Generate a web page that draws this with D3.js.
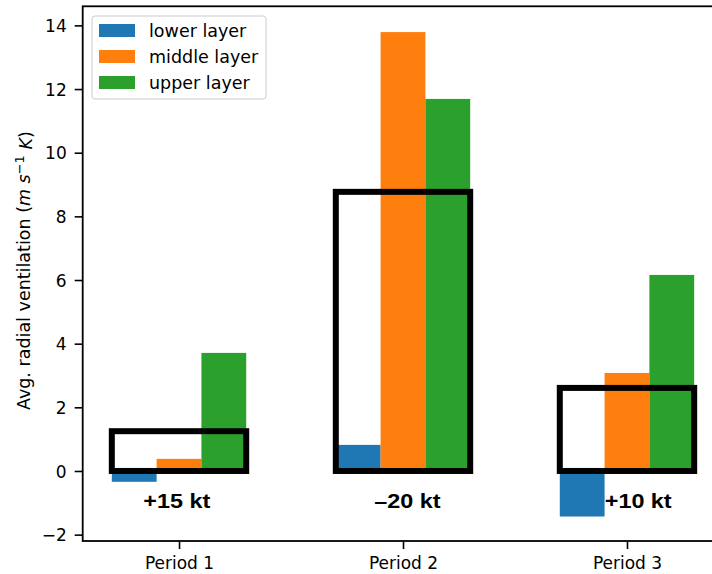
<!DOCTYPE html>
<html>
<head>
<meta charset="utf-8">
<script src="https://cdn.jsdelivr.net/npm/d3@7"></script>
<style>
  body { margin: 0; background: #fff; }
  svg { display: block; font-family: "DejaVu Sans", sans-serif; }
</style>
</head>
<body>
<div id="chart-area"></div>
<script>
// data
const periods = ["Period 1", "Period 2", "Period 3"];
const lowerLayer = [-0.34, 0.82, -1.43];
const middleLayer = [0.38, 13.79, 3.08];
const upperLayer = [3.71, 11.69, 6.16];
const boxTops = [1.25, 8.77, 2.61];
const changeLabels = ["+15 kt", "\u201320 kt", "+10 kt"];
const changeLabelX = [-0.01, 1.02, 2.05];
const yTicks = [-2, 0, 2, 4, 6, 8, 10, 12, 14];
const layerNames = ["lower layer", "middle layer", "upper layer"];
const layerColors = ["#1f77b4", "#ff7f0e", "#2ca02c"];

const W = 712, H = 574;
const barW = 0.2;

const svg = d3.select("#chart-area").append("svg")
  .attr("width", W)
  .attr("height", H)

const x = d3.scaleLinear().domain([-0.43, 2.43]).range([82.7, 723.3])
const y = d3.scaleLinear().domain([-2.2, 14.6]).range([541, 6.3])

const series = [lowerLayer, middleLayer, upperLayer];

// bars
series.forEach((vals, s) => {
  svg.append("g").selectAll("rect")
    .data(vals)
    .enter()
    .append("rect")
    .attr("x", (d, i) => x(i + (s - 1) * barW - barW / 2))
    .attr("width", x(barW) - x(0))
    .attr("y", d => y(Math.max(0, d)))
    .attr("height", d => Math.abs(y(d) - y(0)))
    .attr("fill", layerColors[s])
})

// black boxes
svg.append("g").selectAll("rect")
  .data(boxTops)
  .enter()
  .append("rect")
  .attr("x", (d, i) => x(i - 1.5 * barW))
  .attr("width", x(3 * barW) - x(0))
  .attr("y", d => y(d))
  .attr("height", d => y(0) - y(d))
  .attr("fill", "none")
  .attr("stroke", "#000")
  .attr("stroke-width", 6)

// intensity change labels (wide bold sans)
svg.append("g").selectAll("text")
  .data(changeLabels)
  .enter()
  .append("text")
  .attr("transform", (d, i) => `translate(${x(changeLabelX[i])},${y(-1.17)}) scale(1.2,1)`)
  .attr("text-anchor", "middle")
  .attr("font-family", "'Liberation Sans', Arial, sans-serif")
  .attr("font-weight", "bold")
  .attr("font-size", "19.5px")
  .text(d => d)

// axes
const axisLeft = d3.axisLeft(y).tickValues(yTicks).tickSizeInner(8).tickSizeOuter(0).tickPadding(8)
  .tickFormat(d => d < 0 ? "\u2212" + Math.abs(d) : d)
const axisBottom = d3.axisBottom(x).tickValues([0, 1, 2]).tickSizeInner(8).tickSizeOuter(0).tickPadding(8)
  .tickFormat(i => periods[i])

const gy = svg.append("g")
  .attr("transform", `translate(${x.range()[0]},0)`)
  .call(axisLeft)
const gx = svg.append("g")
  .attr("transform", `translate(0,${y.range()[0]})`)
  .call(axisBottom)

;[gx, gy].forEach(g => {
  g.selectAll("text").attr("font-family", "DejaVu Sans, sans-serif").attr("font-size", "17px").attr("fill", "#000")
  g.selectAll("line").attr("stroke-width", 1.6)
  g.select(".domain").remove()
})
gy.selectAll("text").attr("dy", "0.36em")

// frame
svg.append("rect")
  .attr("x", x.range()[0])
  .attr("y", y.range()[1])
  .attr("width", x.range()[1] - x.range()[0])
  .attr("height", y.range()[0] - y.range()[1])
  .attr("fill", "none")
  .attr("stroke", "#000")
  .attr("stroke-width", 1.8)

// y label
const ylab = svg.append("text")
  .attr("transform", `translate(30,${(y.range()[0] + y.range()[1]) / 2 - 3}) rotate(-90)`)
  .attr("text-anchor", "middle")
  .attr("font-size", "17.5px")
ylab.append("tspan").text("Avg. radial ventilation (")
ylab.append("tspan").attr("font-style", "italic").text("m s")
ylab.append("tspan").attr("dy", "-0.45em").attr("font-size", "13px").text("\u22121")
ylab.append("tspan").attr("dy", "0.45em").attr("font-style", "italic").text(" K")
ylab.append("tspan").text(")")

// legend
const legend = svg.append("g").attr("transform", "translate(92,16)")
legend.append("rect")
  .attr("width", 174)
  .attr("height", 83)
  .attr("rx", 3)
  .attr("fill", "#fff")
  .attr("fill-opacity", 0.8)
  .attr("stroke", "#ccc")
  .attr("stroke-width", 1)

layerNames.forEach((name, i) => {
  legend.append("rect")
    .attr("x", 7)
    .attr("y", 8 + i * 26)
    .attr("width", 36)
    .attr("height", 13)
    .attr("fill", layerColors[i])
  legend.append("text")
    .attr("x", 57)
    .attr("y", 14.5 + i * 26)
    .attr("dy", "0.36em")
    .attr("font-size", "17.5px")
    .text(name)
})
</script>
</body>
</html>
